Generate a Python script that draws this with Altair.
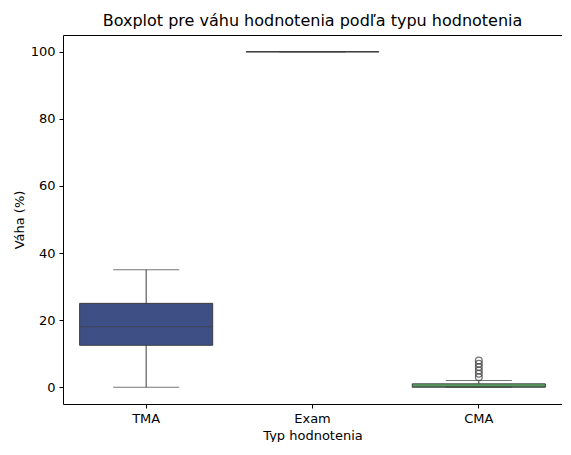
import altair as alt
import pandas as pd

categories = ['TMA', 'Exam', 'CMA']
q1 = [12.5, 100, 0]
median = [18, 100, 0.3]
q3 = [25, 100, 1]
whisk_lo = [0, 100, 0]
whisk_hi = [35, 100, 2]
colors = ['#3e4f86', '#2f8c8c', '#5cb266']

cma_outliers = [3, 4, 5, 6, 7, 8]

stats = pd.DataFrame({'typ': categories, 'q1': q1, 'med': median, 'q3': q3,
                      'lo': whisk_lo, 'hi': whisk_hi})
out = pd.DataFrame({'typ': ['CMA'] * len(cma_outliers), 'v': cma_outliers})

xenc = alt.X('typ:N', sort=categories, title='Typ hodnotenia',
             scale=alt.Scale(paddingInner=0, paddingOuter=0),
             axis=alt.Axis(labelAngle=0))
yscale = alt.Scale(domain=[-5, 105], nice=False, zero=False)
yenc = alt.Y('lo:Q', scale=yscale, title='Váha (%)',
             axis=alt.Axis(values=[0, 20, 40, 60, 80, 100], grid=False))

base = alt.Chart(stats)
whisk = base.mark_rule(color='#3d3d3d').encode(x=xenc, y=yenc, y2='hi:Q')
box = base.mark_bar(width=alt.RelativeBandSize(0.8), stroke='#3d3d3d', strokeWidth=1).encode(
    x=xenc, y=alt.Y('q1:Q', scale=yscale), y2='q3:Q',
    color=alt.Color('typ:N', scale=alt.Scale(domain=categories, range=colors), legend=None))
med = base.mark_tick(color='#3d3d3d', size=132, thickness=1).encode(x=xenc, y=alt.Y('med:Q', scale=yscale))
cap_lo = base.mark_tick(color='#3d3d3d', size=66, thickness=1).encode(x=xenc, y=alt.Y('lo:Q', scale=yscale))
cap_hi = base.mark_tick(color='#3d3d3d', size=66, thickness=1).encode(x=xenc, y=alt.Y('hi:Q', scale=yscale))
pts = alt.Chart(out).mark_point(shape='circle', filled=False, color='#3d3d3d', size=45, strokeWidth=1.3).encode(
    x=xenc, y=alt.Y('v:Q', scale=yscale))

chart = alt.layer(whisk, box, med, cap_lo, cap_hi, pts).properties(
    width=499, height=369,
    padding={'left': 5, 'top': 5, 'right': 0, 'bottom': 0},
    title='Boxplot pre váhu hodnotenia podľa typu hodnotenia'
).configure(font='DejaVu Sans').configure_view(stroke='black', strokeWidth=1).configure_axis(
    domainColor='black', tickColor='black', labelColor='black', titleColor='black',
    labelFontSize=13, titleFontSize=13, titleFontWeight='normal', tickSize=4, labelPadding=4, domain=False
).configure_title(fontSize=16, fontWeight='normal', color='black', offset=6)

chart.save("out.html", embed_options={"renderer": "svg", "actions": False})
